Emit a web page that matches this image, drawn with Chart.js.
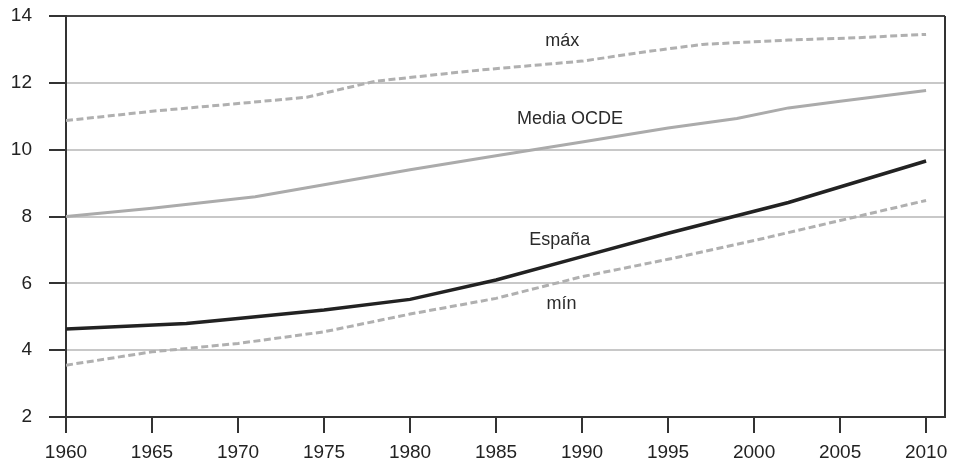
<!DOCTYPE html>
<html>
<head>
<meta charset="utf-8">
<script src="https://cdn.jsdelivr.net/npm/chart.js@4"></script>
<style>
  html, body { margin: 0; padding: 0; background: #fff; }
  canvas { display: block; }
</style>
</head>
<body>
<canvas id="chart" width="957" height="463"></canvas>
<script>
// datos
const espanaYears = [1960, 1967, 1970, 1975, 1980, 1985, 1990, 1995, 2002, 2010];
const espanaValues = [4.63, 4.8, 4.95, 5.2, 5.52, 6.1, 6.8, 7.5, 8.42, 9.66];

const ocdeYears = [1960, 1965, 1971, 1975, 1980, 1985, 1990, 1995, 1999, 2002, 2005, 2010];
const ocdeValues = [8.0, 8.25, 8.59, 8.95, 9.4, 9.82, 10.23, 10.65, 10.93, 11.25, 11.45, 11.77];

const maxYears = [1960, 1965, 1970, 1974, 1978, 1984, 1990, 1994, 1997, 2002, 2006, 2010];
const maxValues = [10.87, 11.15, 11.38, 11.57, 12.05, 12.38, 12.65, 12.95, 13.15, 13.28, 13.35, 13.45];

const minYears = [1960, 1965, 1970, 1975, 1980, 1985, 1990, 1995, 2000, 2005, 2010];
const minValues = [3.55, 3.95, 4.2, 4.55, 5.08, 5.55, 6.2, 6.72, 7.28, 7.88, 8.48];

const yTicks = [2, 4, 6, 8, 10, 12, 14];
const xTicks = [1960, 1965, 1970, 1975, 1980, 1985, 1990, 1995, 2000, 2005, 2010];

// etiquetas dentro del grafico (año, valor)
const labelTexts = ['máx', 'Media OCDE', 'España', 'mín'];
const labelYears = [1988.85, 1989.3, 1988.7, 1988.8];
const labelValues = [13.24, 10.93, 7.3, 5.38];

const FONT = "'Liberation Sans', Arial, Helvetica, sans-serif";

function toPoints(years, values) {
  return years.map((x, i) => ({ x, y: values[i] }));
}

// etiquetas de series
const seriesLabels = {
  id: 'seriesLabels',
  afterDatasetsDraw(chart) {
    const { ctx, scales: { x, y } } = chart;
    ctx.save();
    ctx.font = '18px ' + FONT;
    ctx.fillStyle = '#2a2a2a';
    ctx.textAlign = 'center';
    ctx.textBaseline = 'middle';
    labelTexts.forEach((t, i) => {
      ctx.fillText(t, x.getPixelForValue(labelYears[i]), y.getPixelForValue(labelValues[i]));
    });
    ctx.restore();
  }
};

// borde derecho
const rightBorder = {
  id: 'rightBorder',
  afterDraw(chart) {
    const { ctx, chartArea } = chart;
    ctx.save();
    ctx.strokeStyle = '#333';
    ctx.lineWidth = 2;
    ctx.beginPath();
    ctx.moveTo(chartArea.right, chartArea.top);
    ctx.lineTo(chartArea.right, chartArea.bottom);
    ctx.stroke();
    ctx.restore();
  }
};

const lineBase = { pointRadius: 0, tension: 0, fill: false, borderCapStyle: 'butt' };

new Chart(document.getElementById('chart'), {
  type: 'line',
  data: {
    datasets: [
      { ...lineBase, label: 'máx', data: toPoints(maxYears, maxValues), borderColor: '#b0b0b0', borderWidth: 3, borderDash: [7, 3.5] },
      { ...lineBase, label: 'mín', data: toPoints(minYears, minValues), borderColor: '#b0b0b0', borderWidth: 3, borderDash: [7, 3.5] },
      { ...lineBase, label: 'Media OCDE', data: toPoints(ocdeYears, ocdeValues), borderColor: '#ababab', borderWidth: 3 },
      { ...lineBase, label: 'España', data: toPoints(espanaYears, espanaValues), borderColor: '#222', borderWidth: 3.5 }
    ]
  },
  options: {
    responsive: false,
    animation: false,
    devicePixelRatio: 1,
    layout: { padding: { top: 16, right: 12, left: 0, bottom: 0 } },
    plugins: { legend: { display: false }, tooltip: { enabled: false } },
    scales: {
      x: {
        type: 'linear',
        min: 1960,
        max: 2011.1,
        afterBuildTicks: (scale) => { scale.ticks = xTicks.map(v => ({ value: v })); },
        afterFit: (scale) => { scale.height = 46; },
        ticks: { padding: 8, color: '#222', font: { family: FONT, size: 19 }, callback: v => String(v) },
        grid: { drawOnChartArea: false, drawTicks: true, tickLength: 16, tickColor: '#333', lineWidth: 2 },
        border: { color: '#333', width: 2 }
      },
      y: {
        min: 2,
        max: 14,
        afterBuildTicks: (scale) => { scale.ticks = yTicks.map(v => ({ value: v })); },
        afterFit: (scale) => {
          scale.width = 66;
          scale.paddingTop = 0;
          scale.paddingBottom = 0;
        },
        ticks: { padding: 17, color: '#222', font: { family: FONT, size: 19 } },
        grid: {
          tickLength: 17,
          tickColor: '#333',
          lineWidth: 2,
          color: (c) => (c.tick && (c.tick.value === 14 || c.tick.value === 2)) ? '#444' : '#c8c8c8'
        },
        border: { color: '#333', width: 2 }
      }
    }
  },
  plugins: [seriesLabels, rightBorder]
});
</script>
</body>
</html>
